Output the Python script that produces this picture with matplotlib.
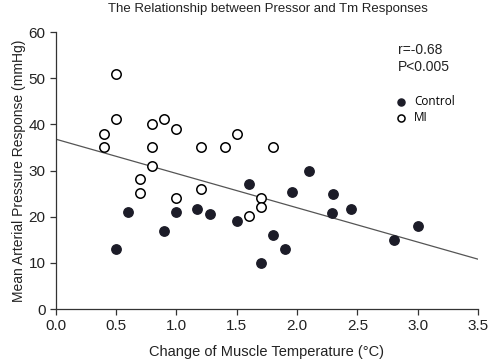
import numpy as np
import matplotlib
matplotlib.use('Agg')
import matplotlib.pyplot as plt

plt.rcParams['font.family'] = ['Liberation Sans', 'DejaVu Sans']

# control group (filled)
ctrl_x = [0.5, 0.6, 0.9, 1.0, 1.17, 1.28, 1.5, 1.6, 1.7, 1.8, 1.9, 1.96, 2.1, 2.29, 2.3, 2.45, 2.8, 3.0]
ctrl_y = [13, 21, 16.8, 21, 21.6, 20.5, 19, 27, 10, 16, 13, 25.4, 30, 20.7, 25, 21.7, 15, 18]

# MI group (open)
mi_x = [0.4, 0.4, 0.5, 0.5, 0.7, 0.7, 0.8, 0.8, 0.8, 0.9, 1.0, 1.0, 1.2, 1.2, 1.4, 1.5, 1.6, 1.7, 1.7, 1.8]
mi_y = [38, 35.2, 51, 41.2, 28.2, 25.1, 40, 35, 31, 41.2, 39, 24, 35, 26, 35, 38, 20.2, 24, 22, 35]

# regression line as drawn
fit_x = [0.0, 3.5]
fit_y = [36.8, 10.8]

fig = plt.figure(figsize=(4.9, 3.61), dpi=100)
ax = fig.add_axes([0.114, 0.144, 0.8615, 0.767])

ax.plot(fit_x, fit_y, color='#555555', lw=0.9, zorder=1)
ax.scatter(mi_x, mi_y, s=46, facecolor='white', edgecolor='black', lw=1.1, zorder=3, label='MI')
ax.scatter(ctrl_x, ctrl_y, s=46, facecolor='#1c1c28', edgecolor='#1c1c28', lw=1.0, zorder=3, label='Control')

ax.set_xlim(0, 3.5)
ax.set_ylim(0, 60)
ax.set_xticks(np.arange(0, 3.51, 0.5))
ax.set_xticklabels(['%.1f' % v for v in np.arange(0, 3.51, 0.5)])
ax.set_yticks(np.arange(0, 61, 10))
for s in ['top', 'right']:
    ax.spines[s].set_visible(False)
for s in ['left', 'bottom']:
    ax.spines[s].set_color('#333333')
    ax.spines[s].set_linewidth(0.9)
ax.tick_params(direction='out', length=4, width=0.9, colors='#333333', labelsize=11, labelcolor='#222222')

ax.set_xlabel('Change of Muscle Temperature (°C)', fontsize=10.5, color='#222222', labelpad=8)
ax.set_ylabel('Mean Arterial Pressure Response (mmHg)', fontsize=10, color='#222222', labelpad=2)
fig.text(0.547, 0.975, 'The Relationship between Pressor and Tm Responses', ha='center', va='center', fontsize=9.5, color='#222222')

ax.text(0.81, 0.905, 'r=-0.68\nP<0.005', transform=ax.transAxes, fontsize=10, color='#222222', va='center', linespacing=1.2)

handles, labels = ax.get_legend_handles_labels()
leg = ax.legend(handles[::-1], labels[::-1], loc='upper left', bbox_to_anchor=(0.764, 0.812), frameon=False,
                handletextpad=0.1, labelspacing=0.3, markerscale=0.75,
                prop={'family': ['Open Sans', 'DejaVu Sans'], 'size': 8.5})

fig.savefig('out.png', dpi=100)
